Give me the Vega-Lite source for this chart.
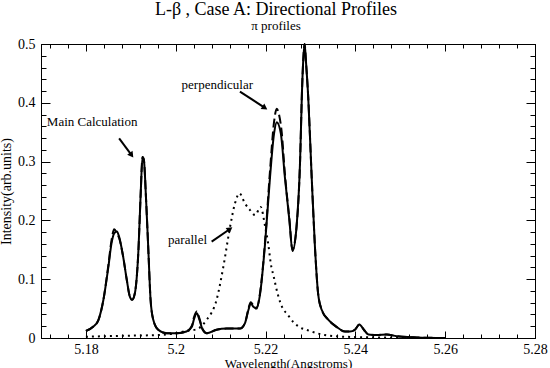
{
  "$schema": "https://vega.github.io/schema/vega-lite/v6.json",
  "width": 494,
  "height": 294,
  "autosize": {"type": "none"},
  "padding": {"left": 41, "top": 44, "right": 15, "bottom": 30},
  "background": "white",
  "config": {"view": {"stroke": "black", "strokeWidth": 1}},
  "title": {
    "text": "L-β  , Case A: Directional Profiles",
    "subtitle": "π profiles",
    "font": "Liberation Serif",
    "fontSize": 18,
    "fontWeight": "normal",
    "color": "black",
    "subtitleFont": "Liberation Serif",
    "subtitleFontSize": 13,
    "subtitleColor": "black",
    "subtitlePadding": 1,
    "anchor": "middle",
    "dx": -12,
    "offset": 4
  },
  "datasets": {
    "main": [
      {"wl": 5.1800, "i": 0.012}, {"wl": 5.1816, "i": 0.019}, {"wl": 5.1828, "i": 0.031},
      {"wl": 5.1839, "i": 0.065}, {"wl": 5.1850, "i": 0.121}, {"wl": 5.1857, "i": 0.161},
      {"wl": 5.1863, "i": 0.178}, {"wl": 5.1869, "i": 0.181}, {"wl": 5.1874, "i": 0.172},
      {"wl": 5.1883, "i": 0.138}, {"wl": 5.1891, "i": 0.099}, {"wl": 5.1898, "i": 0.070},
      {"wl": 5.1903, "i": 0.065}, {"wl": 5.1909, "i": 0.076}, {"wl": 5.1917, "i": 0.150},
      {"wl": 5.1922, "i": 0.246}, {"wl": 5.1926, "i": 0.308}, {"wl": 5.1929, "i": 0.303},
      {"wl": 5.1934, "i": 0.235}, {"wl": 5.1939, "i": 0.150}, {"wl": 5.1944, "i": 0.065},
      {"wl": 5.1950, "i": 0.031}, {"wl": 5.1961, "i": 0.014}, {"wl": 5.1980, "i": 0.008},
      {"wl": 5.2002, "i": 0.008}, {"wl": 5.2024, "i": 0.011}, {"wl": 5.2036, "i": 0.019},
      {"wl": 5.2041, "i": 0.033}, {"wl": 5.2047, "i": 0.042}, {"wl": 5.2052, "i": 0.033},
      {"wl": 5.2060, "i": 0.014}, {"wl": 5.2069, "i": 0.008}, {"wl": 5.2091, "i": 0.014},
      {"wl": 5.2113, "i": 0.016}, {"wl": 5.2143, "i": 0.016}, {"wl": 5.2154, "i": 0.025},
      {"wl": 5.2162, "i": 0.048}, {"wl": 5.2167, "i": 0.059}, {"wl": 5.2173, "i": 0.053},
      {"wl": 5.2180, "i": 0.050}, {"wl": 5.2188, "i": 0.076}, {"wl": 5.2199, "i": 0.161},
      {"wl": 5.2210, "i": 0.274}, {"wl": 5.2219, "i": 0.348}, {"wl": 5.2225, "i": 0.367},
      {"wl": 5.2234, "i": 0.348}, {"wl": 5.2243, "i": 0.274}, {"wl": 5.2253, "i": 0.201},
      {"wl": 5.2260, "i": 0.148}, {"wl": 5.2269, "i": 0.189}, {"wl": 5.2277, "i": 0.303},
      {"wl": 5.2281, "i": 0.416}, {"wl": 5.2284, "i": 0.473}, {"wl": 5.2287, "i": 0.500},
      {"wl": 5.2290, "i": 0.470}, {"wl": 5.2295, "i": 0.410}, {"wl": 5.2303, "i": 0.269},
      {"wl": 5.2310, "i": 0.155}, {"wl": 5.2317, "i": 0.076}, {"wl": 5.2325, "i": 0.048},
      {"wl": 5.2340, "i": 0.031}, {"wl": 5.2358, "i": 0.019}, {"wl": 5.2377, "i": 0.011},
      {"wl": 5.2388, "i": 0.011}, {"wl": 5.2399, "i": 0.014}, {"wl": 5.2409, "i": 0.023},
      {"wl": 5.2419, "i": 0.014}, {"wl": 5.2429, "i": 0.006}, {"wl": 5.2448, "i": 0.005},
      {"wl": 5.2470, "i": 0.006}, {"wl": 5.2492, "i": 0.003}, {"wl": 5.2537, "i": 0.001},
      {"wl": 5.2600, "i": 0.000}
    ],
    "perp": [
      {"wl": 5.1800, "i": 0.012}, {"wl": 5.1816, "i": 0.019}, {"wl": 5.1828, "i": 0.031},
      {"wl": 5.1839, "i": 0.065}, {"wl": 5.1850, "i": 0.124}, {"wl": 5.1857, "i": 0.166},
      {"wl": 5.1863, "i": 0.185}, {"wl": 5.1869, "i": 0.178}, {"wl": 5.1874, "i": 0.170},
      {"wl": 5.1883, "i": 0.138}, {"wl": 5.1891, "i": 0.099}, {"wl": 5.1898, "i": 0.070},
      {"wl": 5.1903, "i": 0.065}, {"wl": 5.1909, "i": 0.076}, {"wl": 5.1917, "i": 0.150},
      {"wl": 5.1922, "i": 0.246}, {"wl": 5.1926, "i": 0.308}, {"wl": 5.1929, "i": 0.303},
      {"wl": 5.1934, "i": 0.235}, {"wl": 5.1939, "i": 0.150}, {"wl": 5.1944, "i": 0.065},
      {"wl": 5.1950, "i": 0.031}, {"wl": 5.1961, "i": 0.014}, {"wl": 5.1980, "i": 0.008},
      {"wl": 5.2002, "i": 0.008}, {"wl": 5.2024, "i": 0.011}, {"wl": 5.2036, "i": 0.021},
      {"wl": 5.2041, "i": 0.036}, {"wl": 5.2047, "i": 0.045}, {"wl": 5.2052, "i": 0.035},
      {"wl": 5.2060, "i": 0.015}, {"wl": 5.2069, "i": 0.008}, {"wl": 5.2091, "i": 0.014},
      {"wl": 5.2113, "i": 0.016}, {"wl": 5.2143, "i": 0.016}, {"wl": 5.2154, "i": 0.025},
      {"wl": 5.2162, "i": 0.050}, {"wl": 5.2167, "i": 0.061}, {"wl": 5.2173, "i": 0.055},
      {"wl": 5.2180, "i": 0.052}, {"wl": 5.2188, "i": 0.078}, {"wl": 5.2199, "i": 0.165},
      {"wl": 5.2210, "i": 0.285}, {"wl": 5.2219, "i": 0.368}, {"wl": 5.2225, "i": 0.390},
      {"wl": 5.2230, "i": 0.380}, {"wl": 5.2236, "i": 0.350}, {"wl": 5.2243, "i": 0.280},
      {"wl": 5.2253, "i": 0.203}, {"wl": 5.2260, "i": 0.150}, {"wl": 5.2269, "i": 0.189},
      {"wl": 5.2277, "i": 0.303}, {"wl": 5.2281, "i": 0.416}, {"wl": 5.2284, "i": 0.473},
      {"wl": 5.2287, "i": 0.500}, {"wl": 5.2290, "i": 0.470}, {"wl": 5.2295, "i": 0.410},
      {"wl": 5.2303, "i": 0.269}, {"wl": 5.2310, "i": 0.155}, {"wl": 5.2317, "i": 0.076},
      {"wl": 5.2325, "i": 0.048}, {"wl": 5.2340, "i": 0.031}, {"wl": 5.2358, "i": 0.019},
      {"wl": 5.2377, "i": 0.011}, {"wl": 5.2388, "i": 0.011}, {"wl": 5.2399, "i": 0.014},
      {"wl": 5.2409, "i": 0.023}, {"wl": 5.2419, "i": 0.014}, {"wl": 5.2429, "i": 0.006},
      {"wl": 5.2448, "i": 0.005}, {"wl": 5.2470, "i": 0.006}, {"wl": 5.2492, "i": 0.003},
      {"wl": 5.2537, "i": 0.001}, {"wl": 5.2600, "i": 0.000}
    ],
    "para": [
      {"wl": 5.1800, "i": 0.002}, {"wl": 5.1840, "i": 0.003}, {"wl": 5.1900, "i": 0.004},
      {"wl": 5.1958, "i": 0.005}, {"wl": 5.2000, "i": 0.008}, {"wl": 5.2024, "i": 0.012},
      {"wl": 5.2047, "i": 0.015}, {"wl": 5.2069, "i": 0.031}, {"wl": 5.2091, "i": 0.065},
      {"wl": 5.2106, "i": 0.121}, {"wl": 5.2121, "i": 0.189}, {"wl": 5.2132, "i": 0.229},
      {"wl": 5.2142, "i": 0.246}, {"wl": 5.2154, "i": 0.229}, {"wl": 5.2165, "i": 0.218},
      {"wl": 5.2177, "i": 0.209}, {"wl": 5.2189, "i": 0.223}, {"wl": 5.2199, "i": 0.190},
      {"wl": 5.2206, "i": 0.160}, {"wl": 5.2212, "i": 0.125}, {"wl": 5.2218, "i": 0.105},
      {"wl": 5.2226, "i": 0.078}, {"wl": 5.2240, "i": 0.048}, {"wl": 5.2247, "i": 0.042},
      {"wl": 5.2262, "i": 0.027}, {"wl": 5.2277, "i": 0.018}, {"wl": 5.2295, "i": 0.013},
      {"wl": 5.2332, "i": 0.005}, {"wl": 5.2381, "i": 0.002}, {"wl": 5.2450, "i": 0.001},
      {"wl": 5.2550, "i": 0.000}
    ],
    "notes": [
      {"label": "Main Calculation", "wl": 5.1713, "i": 0.367},
      {"label": "perpendicular", "wl": 5.2013, "i": 0.430},
      {"label": "parallel", "wl": 5.1983, "i": 0.1667}
    ],
    "arrows": [
      {"wl": 5.1874, "i": 0.3396, "hwl": 5.19017, "hi": 0.3111},
      {"wl": 5.2143, "i": 0.4189, "hwl": 5.21986, "hi": 0.3915},
      {"wl": 5.2080, "i": 0.1638, "hwl": 5.21208, "hi": 0.1854}
    ],
    "headMain": [{"hwl": 5.19017, "hi": 0.3111}],
    "headPerp": [{"hwl": 5.21986, "hi": 0.3915}],
    "headPara": [{"hwl": 5.21208, "hi": 0.1854}]
  },
  "layer": [
    {
      "data": {"name": "main"},
      "mark": {"type": "line", "color": "black", "strokeWidth": 2, "interpolate": "monotone"},
      "encoding": {
        "x": {
          "field": "wl", "type": "quantitative",
          "scale": {"domain": [5.17, 5.28], "nice": false, "zero": false},
          "axis": {
            "orient": "bottom",
            "values": [5.18, 5.2, 5.22, 5.24, 5.26, 5.28],
            "format": "~g",
            "ticks": false,
            "labelPadding": 4,
            "labelOverlap": false,
            "labelFlush": false,
            "grid": false,
            "title": "Wavelength(Angstroms)",
            "titlePadding": 1,
            "domainColor": "black", "labelColor": "black", "titleColor": "black",
            "labelFont": "Liberation Serif", "labelFontSize": 14,
            "titleFont": "Liberation Serif", "titleFontSize": 13, "titleFontWeight": "normal"
          }
        },
        "y": {
          "field": "i", "type": "quantitative",
          "scale": {"domain": [0, 0.5], "nice": false},
          "axis": {
            "orient": "left",
            "values": [0, 0.1, 0.2, 0.3, 0.4, 0.5],
            "format": "~g",
            "ticks": false,
            "labelPadding": 6,
            "labelOverlap": false,
            "labelFlush": false,
            "grid": false,
            "title": "Intensity(arb.units)",
            "titlePadding": 4,
            "domainColor": "black", "labelColor": "black", "titleColor": "black",
            "labelFont": "Liberation Serif", "labelFontSize": 14,
            "titleFont": "Liberation Serif", "titleFontSize": 14, "titleFontWeight": "normal"
          }
        }
      }
    },
    {
      "data": {"name": "perp"},
      "mark": {"type": "line", "color": "black", "strokeWidth": 2, "strokeDash": [9, 4], "interpolate": "monotone"},
      "encoding": {
        "x": {
          "field": "wl", "type": "quantitative",
          "scale": {"domain": [5.17, 5.28], "nice": false, "zero": false},
          "axis": {"orient": "top", "values": [5.18, 5.2, 5.22, 5.24, 5.26, 5.28], "ticks": false, "labels": false, "grid": false, "title": null, "domainColor": "black"}
        },
        "y": {
          "field": "i", "type": "quantitative",
          "scale": {"domain": [0, 0.5], "nice": false},
          "axis": {"orient": "right", "values": [0, 0.1, 0.2, 0.3, 0.4, 0.5], "ticks": false, "labels": false, "grid": false, "title": null, "domainColor": "black"}
        }
      }
    },
    {
      "data": {"name": "para"},
      "mark": {"type": "line", "color": "black", "strokeWidth": 2, "strokeDash": [2, 4], "interpolate": "monotone"},
      "encoding": {
        "x": {
          "field": "wl", "type": "quantitative",
          "scale": {"domain": [5.17, 5.28], "nice": false, "zero": false},
          "axis": {"orient": "bottom", "offset": -7, "values": [5.18, 5.2, 5.22, 5.24, 5.26, 5.28], "tickSize": 7, "labels": false, "domain": false, "grid": false, "title": null, "tickColor": "black"}
        },
        "y": {
          "field": "i", "type": "quantitative",
          "scale": {"domain": [0, 0.5], "nice": false},
          "axis": {"orient": "left", "offset": -9, "values": [0, 0.1, 0.2, 0.3, 0.4, 0.5], "tickSize": 9, "labels": false, "domain": false, "grid": false, "title": null, "tickColor": "black"}
        }
      }
    },
    {
      "data": {"name": "notes"},
      "mark": {"type": "text", "align": "left", "baseline": "middle", "font": "Liberation Serif", "fontSize": 13, "color": "black"},
      "encoding": {
        "x": {
          "field": "wl", "type": "quantitative",
          "scale": {"domain": [5.17, 5.28], "nice": false, "zero": false},
          "axis": {"orient": "top", "offset": -7, "values": [5.18, 5.2, 5.22, 5.24, 5.26, 5.28], "tickSize": 7, "labels": false, "domain": false, "grid": false, "title": null, "tickColor": "black"}
        },
        "y": {
          "field": "i", "type": "quantitative",
          "scale": {"domain": [0, 0.5], "nice": false},
          "axis": {"orient": "right", "offset": -9, "values": [0, 0.1, 0.2, 0.3, 0.4, 0.5], "tickSize": 9, "labels": false, "domain": false, "grid": false, "title": null, "tickColor": "black"}
        },
        "text": {"field": "label"}
      }
    },
    {
      "data": {"name": "arrows"},
      "mark": {"type": "rule", "color": "black", "strokeWidth": 2},
      "encoding": {
        "x": {
          "field": "wl", "type": "quantitative",
          "scale": {"domain": [5.17, 5.28], "nice": false, "zero": false},
          "axis": {"orient": "bottom", "offset": -4, "values": [5.172, 5.176, 5.184, 5.188, 5.192, 5.196, 5.204, 5.208, 5.212, 5.216, 5.224, 5.228, 5.232, 5.236, 5.244, 5.248, 5.252, 5.256, 5.264, 5.268, 5.272, 5.276], "tickSize": 4, "labels": false, "domain": false, "grid": false, "title": null, "tickColor": "black"}
        },
        "y": {
          "field": "i", "type": "quantitative",
          "scale": {"domain": [0, 0.5], "nice": false},
          "axis": {"orient": "left", "offset": -5, "values": [0.02, 0.04, 0.06, 0.08, 0.12, 0.14, 0.16, 0.18, 0.22, 0.24, 0.26, 0.28, 0.32, 0.34, 0.36, 0.38, 0.42, 0.44, 0.46, 0.48], "tickSize": 5, "labels": false, "domain": false, "grid": false, "title": null, "tickColor": "black"}
        },
        "x2": {"field": "hwl"},
        "y2": {"field": "hi"}
      }
    },
    {
      "data": {"name": "headMain"},
      "mark": {"type": "point", "shape": "triangle-up", "filled": true, "color": "black", "size": 45, "angle": 143.7, "opacity": 1},
      "encoding": {
        "x": {
          "field": "hwl", "type": "quantitative",
          "scale": {"domain": [5.17, 5.28], "nice": false, "zero": false},
          "axis": {"orient": "top", "offset": -4, "values": [5.172, 5.176, 5.184, 5.188, 5.192, 5.196, 5.204, 5.208, 5.212, 5.216, 5.224, 5.228, 5.232, 5.236, 5.244, 5.248, 5.252, 5.256, 5.264, 5.268, 5.272, 5.276], "tickSize": 4, "labels": false, "domain": false, "grid": false, "title": null, "tickColor": "black"}
        },
        "y": {
          "field": "hi", "type": "quantitative",
          "scale": {"domain": [0, 0.5], "nice": false},
          "axis": {"orient": "right", "offset": -5, "values": [0.02, 0.04, 0.06, 0.08, 0.12, 0.14, 0.16, 0.18, 0.22, 0.24, 0.26, 0.28, 0.32, 0.34, 0.36, 0.38, 0.42, 0.44, 0.46, 0.48], "tickSize": 5, "labels": false, "domain": false, "grid": false, "title": null, "tickColor": "black"}
        }
      }
    },
    {
      "data": {"name": "headPerp"},
      "mark": {"type": "point", "shape": "triangle-up", "filled": true, "color": "black", "size": 45, "angle": 122.9, "opacity": 1},
      "encoding": {
        "x": {"field": "hwl", "type": "quantitative", "scale": {"domain": [5.17, 5.28], "nice": false, "zero": false},
          "axis": {"orient": "bottom", "ticks": false, "labels": false, "domain": false, "grid": false, "title": null}},
        "y": {"field": "hi", "type": "quantitative", "scale": {"domain": [0, 0.5], "nice": false},
          "axis": {"orient": "left", "ticks": false, "labels": false, "domain": false, "grid": false, "title": null}}
      }
    },
    {
      "data": {"name": "headPara"},
      "mark": {"type": "point", "shape": "triangle-up", "filled": true, "color": "black", "size": 45, "angle": 55.2, "opacity": 1},
      "encoding": {
        "x": {"field": "hwl", "type": "quantitative", "scale": {"domain": [5.17, 5.28], "nice": false, "zero": false},
          "axis": {"orient": "bottom", "ticks": false, "labels": false, "domain": false, "grid": false, "title": null}},
        "y": {"field": "hi", "type": "quantitative", "scale": {"domain": [0, 0.5], "nice": false},
          "axis": {"orient": "left", "ticks": false, "labels": false, "domain": false, "grid": false, "title": null}}
      }
    }
  ],
  "resolve": {"axis": {"x": "independent", "y": "independent"}}
}
